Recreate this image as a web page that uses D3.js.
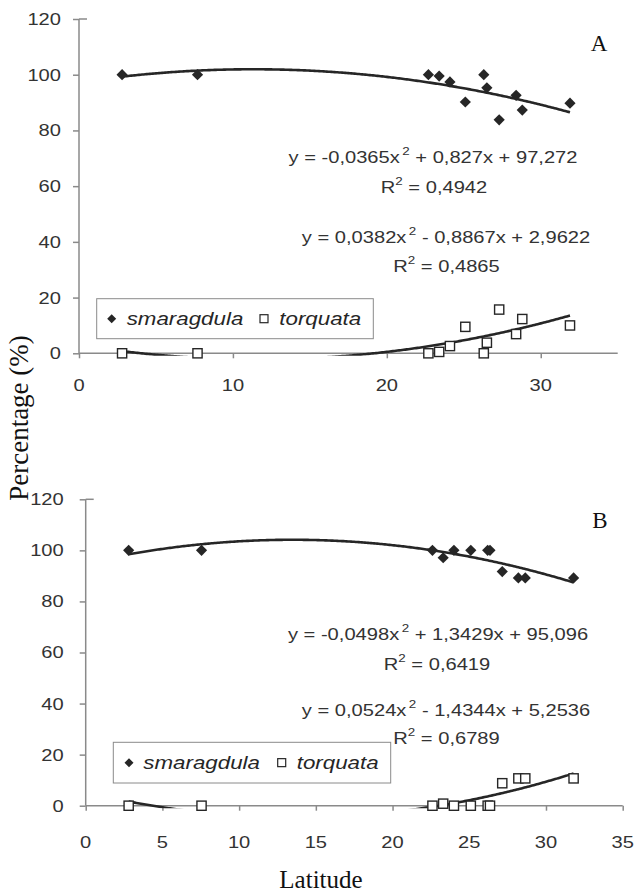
<!DOCTYPE html>
<html><head><meta charset="utf-8">
<script src="https://cdn.jsdelivr.net/npm/d3@7"></script>
<style>body{margin:0;background:#fff} svg{display:block}</style>
</head><body>
<svg id="chart" width="642" height="893"></svg>
<script>
// ---- data ----
const latA = [2.8, 7.7, 22.7, 23.4, 24.1, 25.1, 26.3, 26.5, 27.3, 28.4, 28.8, 31.9];
const smaragdulaA = [100, 100, 100, 99.5, 97.4, 90.2, 100, 95.3, 83.8, 92.6, 87.3, 89.8];
const torquataA = [0, 0, 0, 0.5, 2.6, 9.5, 0, 3.8, 15.7, 6.9, 12.3, 10];
const latB = [2.8, 7.55, 22.6, 23.3, 24.0, 25.1, 26.2, 26.35, 27.15, 28.2, 28.65, 31.8];
const smaragdulaB = [100, 100, 100, 97.1, 100, 100, 100, 100, 91.7, 89.2, 89.2, 89.2];
const torquataB = [0, 0, 0, 0.8, 0, 0, 0, 0, 8.8, 10.7, 10.7, 10.7];
// polynomial trendline coefficients [c0, c1, c2] as printed on the chart
const trendA_s = [97.272, 0.827, -0.0365];
const trendA_t = [2.9622, -0.8867, 0.0382];
const trendB_s = [95.096, 1.3429, -0.0498];
const trendB_t = [5.2536, -1.4344, 0.0524];
const eqA = [["y = -0,0365x", "2", " + 0,827x + 97,272"], ["y = 0,0382x", "2", " - 0,8867x + 2,9622"]];
const r2A = ["0,4942", "0,4865"];
const eqB = [["y = -0,0498x", "2", " + 1,3429x + 95,096"], ["y = 0,0524x", "2", " - 1,4344x + 5,2536"]];
const r2B = ["0,6419", "0,6789"];
const yTicks = [0, 20, 40, 60, 80, 100, 120];
const xTicksA = [0, 10, 20, 30];
const xTicksB = [0, 5, 10, 15, 20, 25, 30, 35];
const seriesNames = ["smaragdula", "torquata"];

const svg = d3.select("#chart");
const SANS = "'Liberation Sans', Arial, sans-serif";
const SERIF = "'Liberation Serif', 'Times New Roman', serif";
const STRETCH = 1.22;
const AX = "#8a8a8a", INK = "#262626", TXT = "#333";

function stretched(g, x, y, size, anchor) {
  return g.append("text")
    .attr("transform", `translate(${x},${y}) scale(${STRETCH},1)`)
    .attr("font-family", SANS).attr("font-size", size)
    .attr("fill", TXT).attr("text-anchor", anchor);
}

function panel(cfg) {
  const g = svg.append("g");
  const x = d3.scaleLinear().domain([0, 35]).range(cfg.xr);
  const y = d3.scaleLinear().domain([0, 120]).range(cfg.yr);
  const clipId = "clip" + cfg.id;
  svg.append("clipPath").attr("id", clipId).append("rect")
    .attr("x", x(0)).attr("y", y(120) - 2).attr("width", x(35) - x(0)).attr("height", y(0) - y(120) + 4.5);

  // axes
  const ya = g.append("g").attr("transform", `translate(${x(0)},0)`)
    .call(d3.axisLeft(y).tickValues(yTicks).tickSize(6).tickFormat(""));
  const xa = g.append("g").attr("transform", `translate(0,${y(0)})`)
    .call(d3.axisBottom(x).tickValues(cfg.xTicks).tickSize(5).tickFormat(""));
  [ya, xa].forEach(a => {
    a.select(".domain").attr("stroke", AX).attr("stroke-width", 1.5);
    a.selectAll(".tick line").attr("stroke", AX).attr("stroke-width", 1.5);
  });
  ya.select(".domain").attr("d", `M0,${y(120)}V${y(0)}`);
  xa.select(".domain").attr("d", `M${x(0)},0H${x(35)}`);
  g.append("line").attr("x1", x(0)).attr("x2", x(0) + 8).attr("y1", y(120)).attr("y2", y(120))
    .attr("stroke", AX).attr("stroke-width", 1.5);
  yTicks.forEach(v => stretched(g, x(0) - cfg.yGap, y(v), 16.5, "end").attr("dy", "0.36em").text(v));
  cfg.xTicks.forEach(v => stretched(g, x(v), y(0) + cfg.xGap, 16.5, "middle").attr("dy", "0.36em").text(v));

  // trendlines
  const line = d3.line().x(d => x(d[0])).y(d => y(d[1]));
  [[cfg.ts, cfg.lat], [cfg.tt, cfg.lat]].forEach(([c, lat]) => {
    const lo = d3.min(lat), hi = d3.max(lat);
    const pts = d3.range(lo, hi, 0.1).concat([hi]).map(v => [v, c[0] + c[1] * v + c[2] * v * v]);
    g.append("path").attr("d", line(pts)).attr("fill", "none").attr("stroke", INK)
      .attr("stroke-width", 2.6).attr("clip-path", `url(#${clipId})`);
  });

  // markers
  const dia = r => `M0,${-r}L${r},0L0,${r}L${-r},0Z`;
  g.selectAll(".sm").data(cfg.lat.map((v, i) => [v, cfg.s[i]])).join("path")
    .attr("transform", d => `translate(${x(d[0])},${y(d[1])})`).attr("d", dia(5.6)).attr("fill", INK);
  g.selectAll(".tq").data(cfg.lat.map((v, i) => [v, cfg.t[i]])).join("rect")
    .attr("x", d => x(d[0]) - 4.6).attr("y", d => y(d[1]) - 4.6).attr("width", 9.2).attr("height", 9.2)
    .attr("fill", "#fff").attr("stroke", INK).attr("stroke-width", 1.4);

  // equations
  cfg.eqs.forEach((e, i) => {
    const p = cfg.eqPos[i];
    const t = stretched(g, p[0], p[1], 16.5, "middle").attr("dy", "0.36em");
    t.append("tspan").text(e[0]);
    t.append("tspan").attr("font-size", 11).attr("dy", "-0.75em").attr("dx", 2).text(e[1]);
    t.append("tspan").attr("dy", "0.5em").text(e[2]);
    const r = cfg.r2Pos[i];
    const t2 = stretched(g, r[0], r[1], 16.5, "middle").attr("dy", "0.36em");
    t2.append("tspan").text("R");
    t2.append("tspan").attr("font-size", 11).attr("dy", "-0.75em").text("2");
    t2.append("tspan").attr("dy", "0.5em").text(" = " + cfg.r2[i]);
  });

  // legend
  const L = cfg.leg;
  g.append("rect").attr("x", L.x).attr("y", L.y).attr("width", L.w).attr("height", L.h)
    .attr("fill", "#fff").attr("stroke", AX).attr("stroke-width", 1);
  const cy = L.y + L.h / 2;
  g.append("path").attr("transform", `translate(${L.m1},${cy})`).attr("d", dia(4.5)).attr("fill", INK);
  stretched(g, L.t1, cy, 18.3, "start").attr("font-style", "italic").attr("fill", INK).attr("dy", "0.34em").text(seriesNames[0]);
  g.append("rect").attr("x", L.m2 - 4).attr("y", cy - 4).attr("width", 8).attr("height", 8)
    .attr("fill", "#fff").attr("stroke", INK).attr("stroke-width", 1.2);
  stretched(g, L.t2, cy, 18.3, "start").attr("font-style", "italic").attr("fill", INK).attr("dy", "0.34em").text(seriesNames[1]);

  g.append("text").attr("x", cfg.lab[0]).attr("y", cfg.lab[1]).attr("dy", "0.35em")
    .attr("text-anchor", "middle").attr("font-family", SERIF).attr("font-size", 23).attr("fill", "#111")
    .text(cfg.id);
}

panel({
  id: "A", xr: [79, 617.7], yr: [353.3, 19], xTicks: xTicksA, yGap: 18, xGap: 32,
  lat: latA, s: smaragdulaA, t: torquataA, ts: trendA_s, tt: trendA_t,
  eqs: eqA, r2: r2A, eqPos: [[433, 157], [446, 237]], r2Pos: [[434, 187.5], [446.5, 266.5]],
  leg: {x: 96.7, y: 298.7, w: 276.6, h: 40, m1: 111.7, t1: 126.7, m2: 264, t2: 279.3},
  lab: [599, 43]
});
panel({
  id: "B", xr: [85.7, 622.7], yr: [805.7, 499.3], xTicks: xTicksB, yGap: 22, xGap: 36.6,
  lat: latB, s: smaragdulaB, t: torquataB, ts: trendB_s, tt: trendB_t,
  eqs: eqB, r2: r2B, eqPos: [[438, 634], [446, 710]], r2Pos: [[437, 664], [446.5, 738]],
  leg: {x: 113.3, y: 742.3, w: 277.4, h: 40.7, m1: 129, t1: 143.3, m2: 281.7, t2: 296.7},
  lab: [600, 520]
});

svg.append("text").attr("transform", "translate(20,418) rotate(-90)").attr("dy", "0.3em")
  .attr("text-anchor", "middle").attr("font-family", SERIF).attr("font-size", 27).attr("fill", "#111")
  .text("Percentage (%)");
svg.append("text").attr("x", 321).attr("y", 880).attr("dy", "0.3em")
  .attr("text-anchor", "middle").attr("font-family", SERIF).attr("font-size", 25).attr("fill", "#111")
  .text("Latitude");
</script>
</body></html>
